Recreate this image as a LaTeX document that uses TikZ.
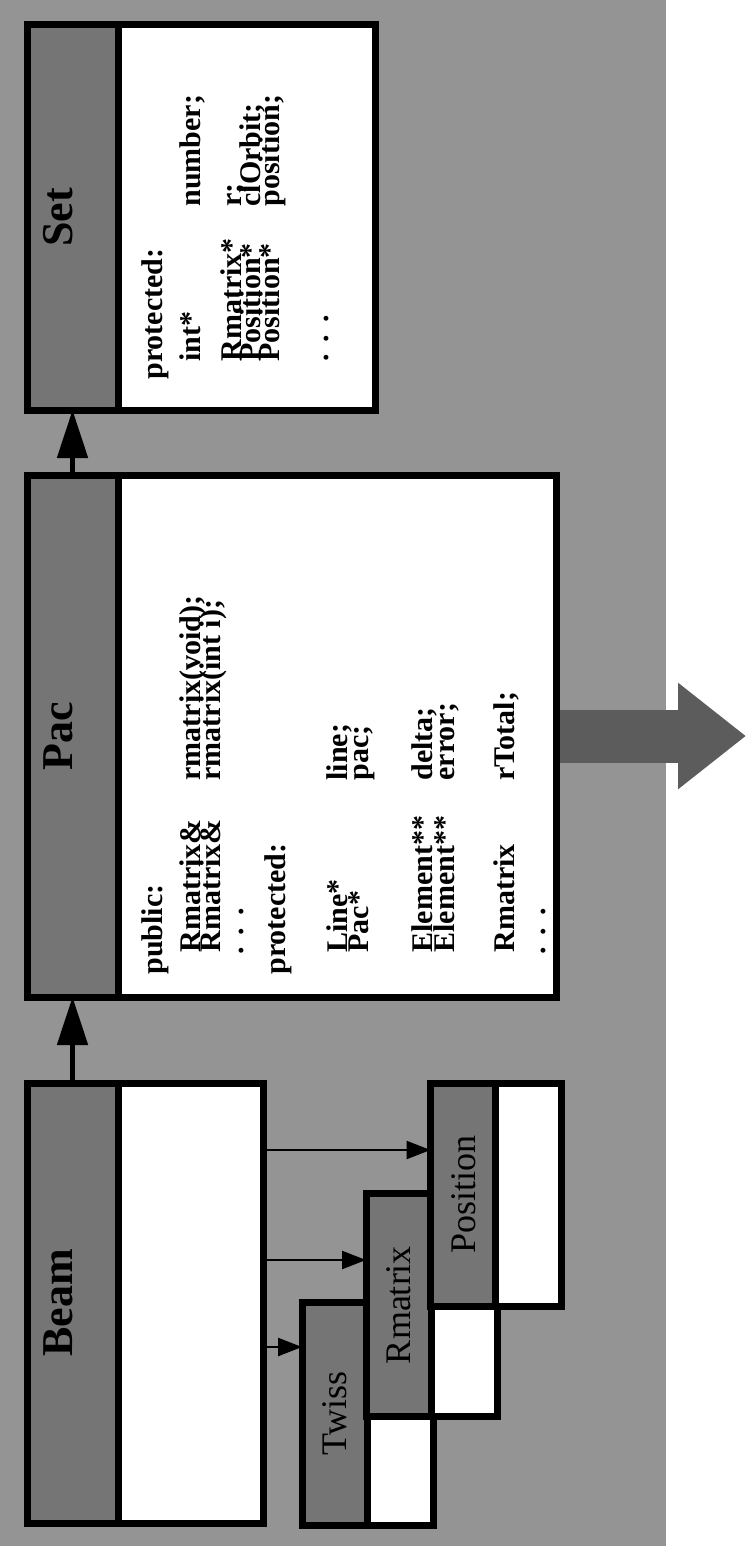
\documentclass[tikz,border=0pt]{standalone}
\usepackage{fontspec}
\setmainfont{Liberation Serif}
\usetikzlibrary{arrows.meta}
\definecolor{stipple}{gray}{0.58}
\definecolor{headcolor}{gray}{0.46}
\definecolor{flowcolor}{gray}{0.36}
\newcommand{\codedots}{.\hspace{6pt}.\hspace{6pt}.}
\tikzset{
  classbox/.style={rectangle, draw=black, line width=3.5pt, fill=white, inner sep=0pt, outer sep=0pt},
  classhead/.style={rectangle, draw=black, line width=3.5pt, fill=headcolor, inner sep=0pt, outer sep=0pt, minimum width=45.5pt},
  subhead/.style={classhead, minimum width=32.5pt},
  headlbl/.style={rotate=90, anchor=base, inner sep=0pt, font=\bfseries\fontsize{22}{22}\selectfont},
  sublbl/.style={rotate=90, anchor=base, inner sep=0pt, font=\fontsize{18}{18}\selectfont},
  code/.style={rotate=90, anchor=base west, inner sep=0pt, font=\bfseries\fontsize{15}{10}\selectfont},
  linkarrow/.style={-{Triangle[length=24pt,width=15pt]}, line width=2.5pt},
  thinarrow/.style={-{Triangle[length=12pt,width=9pt]}, line width=1.2pt},
  fatarrow/.style={-{Triangle[length=34pt,width=51pt]}, line width=26.5pt, draw=flowcolor, shorten <=1.75pt},
}

\begin{document}
\begin{tikzpicture}[x=0.5pt, y=-0.5pt]

\useasboundingbox (0,0) rectangle (746,1546);
\fill[stipple] (0,0) rectangle (666,1546);

% main classes
\node[classbox, minimum width=174pt, minimum height=192.5pt] (set) at (201,217.5) {};
\node[classhead, minimum height=192.5pt, anchor=west] (sethd) at (set.west) {};
\node[headlbl] (setlbl) at (sethd.center) {Set};

\node[classbox, minimum width=264.5pt, minimum height=261pt] (pac) at (291.5,736) {};
\node[classhead, minimum height=261pt, anchor=west] (pachd) at (pac.west) {};
\node[headlbl] (paclbl) at (pachd.center) {Pac};

\node[classbox, minimum width=118pt, minimum height=220pt] (beam) at (145,1303) {};
\node[classhead, minimum height=220pt, anchor=west] (beamhd) at (beam.west) {};
\node[headlbl] (beamlbl) at (beamhd.center) {Beam};

% members
\foreach \bx/\by/\txt [count=\i] in {162/380/protected:, 200/362/int*, 200/207/number;,
    241/362/Rmatrix*, 241/207/r;, 260/362/Position*, 260/207/clOrbit;,
    279/362/Position*, 279/207/position;, 328/362/\codedots}
  \node[code] (setm\i) at (\bx,\by) {\txt};

\foreach \bx/\by/\txt [count=\i] in {162/975/public:, 200/953/Rmatrix\&, 200/781/rmatrix(void);,
    220/953/Rmatrix\&, 220/781/rmatrix(int i);, 243/955/\codedots, 285/975/protected:,
    347/953/Line*, 347/781/line;, 368/953/Pac*, 368/781/pac;,
    432/953/Element**, 432/781/delta;, 454/953/Element**, 454/781/error;,
    514/953/Rmatrix, 514/781/rTotal;, 545/955/\codedots}
  \node[code] (pacm\i) at (\bx,\by) {\txt};

% helper classes
\node[classbox, minimum width=65.5pt, minimum height=111.5pt] (twiss) at (367.5,1413.5) {};
\node[subhead, minimum height=111.5pt, anchor=west] (twisshd) at (twiss.west) {};
\node[sublbl] (twisslbl) at ([xshift=6pt]twisshd.center) {Twiss};

\node[classbox, minimum width=65.5pt, minimum height=111.5pt] (rmat) at (431.5,1305) {};
\node[subhead, minimum height=111.5pt, anchor=west] (rmathd) at (rmat.west) {};
\node[sublbl] (rmatlbl) at ([xshift=6pt]rmathd.center) {Rmatrix};

\node[classbox, minimum width=65.5pt, minimum height=111.5pt] (posn) at (496,1194.5) {};
\node[subhead, minimum height=111.5pt, anchor=west] (posnhd) at (posn.west) {};
\node[sublbl] (posnlbl) at ([xshift=6pt]posnhd.center) {Position};

% connectors
\draw[linkarrow] (beamhd.north) -- (pachd.south);
\draw[linkarrow] (pachd.north) -- (sethd.south);

\coordinate (twin) at ([yshift=33.25pt]twiss.west);
\coordinate (rmin) at ([yshift=22.5pt]rmat.west);
\coordinate (posin) at ([yshift=22.25pt]posn.west);
\draw[thinarrow] (beam.east |- twin) -- (twin);
\draw[thinarrow] (beam.east |- rmin) -- (rmin);
\draw[thinarrow] (beam.east |- posin) -- (posin);

\coordinate (flowend) at (746,736);
\draw[fatarrow] (pac.east) -- (flowend);

\end{tikzpicture}
\end{document}
